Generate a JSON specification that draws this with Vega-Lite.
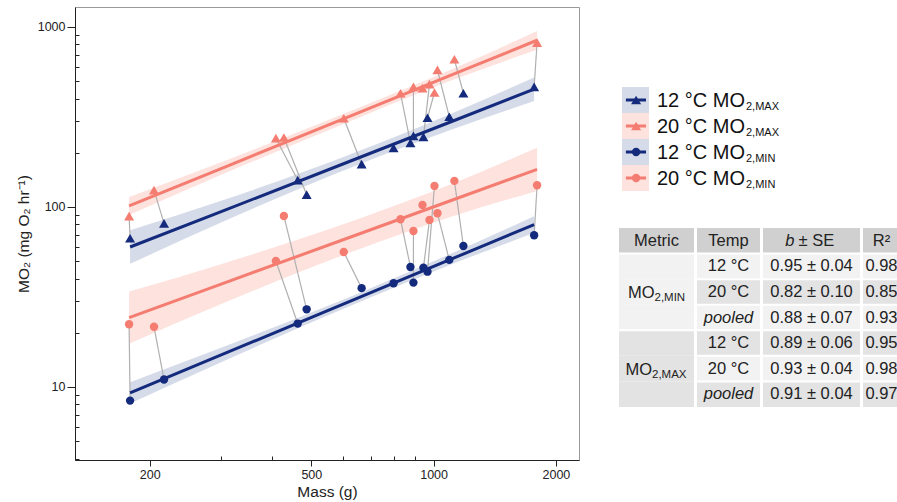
{
  "$schema": "https://vega.github.io/schema/vega-lite/v6.json",
  "padding": {"left": 15, "top": 6, "right": 0, "bottom": 0},
  "background": "white",
  "config": {
    "font": "Liberation Sans",
    "view": {"stroke": null},
    "axis": {"grid": false}
  },
  "datasets": {
    "pts": [
      {"f": "A", "t": "12 °C", "m": "MAX", "mass": 179, "mo2": 67},
      {"f": "A", "t": "20 °C", "m": "MAX", "mass": 178, "mo2": 89},
      {"f": "A", "t": "12 °C", "m": "MIN", "mass": 179, "mo2": 8.4},
      {"f": "A", "t": "20 °C", "m": "MIN", "mass": 178, "mo2": 22.3},
      {"f": "B", "t": "12 °C", "m": "MAX", "mass": 217, "mo2": 81},
      {"f": "B", "t": "20 °C", "m": "MAX", "mass": 205, "mo2": 124},
      {"f": "B", "t": "12 °C", "m": "MIN", "mass": 217, "mo2": 11.0},
      {"f": "B", "t": "20 °C", "m": "MIN", "mass": 205, "mo2": 21.6},
      {"f": "C", "t": "12 °C", "m": "MAX", "mass": 463, "mo2": 141},
      {"f": "C", "t": "20 °C", "m": "MAX", "mass": 409, "mo2": 241},
      {"f": "C", "t": "12 °C", "m": "MIN", "mass": 463, "mo2": 22.5},
      {"f": "C", "t": "20 °C", "m": "MIN", "mass": 409, "mo2": 50.1},
      {"f": "D", "t": "12 °C", "m": "MAX", "mass": 487, "mo2": 117},
      {"f": "D", "t": "20 °C", "m": "MAX", "mass": 428, "mo2": 243},
      {"f": "D", "t": "12 °C", "m": "MIN", "mass": 487, "mo2": 27.0},
      {"f": "D", "t": "20 °C", "m": "MIN", "mass": 428, "mo2": 89.1},
      {"f": "E", "t": "12 °C", "m": "MAX", "mass": 665, "mo2": 173},
      {"f": "E", "t": "20 °C", "m": "MAX", "mass": 601, "mo2": 311},
      {"f": "E", "t": "12 °C", "m": "MIN", "mass": 665, "mo2": 35.4},
      {"f": "E", "t": "20 °C", "m": "MIN", "mass": 601, "mo2": 56.2},
      {"f": "F", "t": "12 °C", "m": "MAX", "mass": 877, "mo2": 227},
      {"f": "F", "t": "20 °C", "m": "MAX", "mass": 829, "mo2": 428},
      {"f": "F", "t": "12 °C", "m": "MIN", "mass": 877, "mo2": 46.4},
      {"f": "F", "t": "20 °C", "m": "MIN", "mass": 829, "mo2": 85.4},
      {"f": "G", "t": "12 °C", "m": "MAX", "mass": 892, "mo2": 248},
      {"f": "G", "t": "20 °C", "m": "MAX", "mass": 892, "mo2": 464},
      {"f": "G", "t": "12 °C", "m": "MIN", "mass": 892, "mo2": 38.0},
      {"f": "G", "t": "20 °C", "m": "MIN", "mass": 892, "mo2": 73.5},
      {"f": "H", "t": "12 °C", "m": "MAX", "mass": 944, "mo2": 245},
      {"f": "H", "t": "20 °C", "m": "MAX", "mass": 977, "mo2": 481},
      {"f": "H", "t": "12 °C", "m": "MIN", "mass": 944, "mo2": 46.0},
      {"f": "H", "t": "20 °C", "m": "MIN", "mass": 977, "mo2": 84.7},
      {"f": "I", "t": "12 °C", "m": "MAX", "mass": 966, "mo2": 313},
      {"f": "I", "t": "20 °C", "m": "MAX", "mass": 1005, "mo2": 432},
      {"f": "I", "t": "12 °C", "m": "MIN", "mass": 966, "mo2": 43.7},
      {"f": "I", "t": "20 °C", "m": "MIN", "mass": 1005, "mo2": 130.8},
      {"f": "J", "t": "12 °C", "m": "MAX", "mass": 1093, "mo2": 317},
      {"f": "J", "t": "20 °C", "m": "MAX", "mass": 1022, "mo2": 577},
      {"f": "J", "t": "12 °C", "m": "MIN", "mass": 1093, "mo2": 50.8},
      {"f": "J", "t": "20 °C", "m": "MIN", "mass": 1022, "mo2": 92.2},
      {"f": "K", "t": "12 °C", "m": "MAX", "mass": 1184, "mo2": 428},
      {"f": "K", "t": "20 °C", "m": "MAX", "mass": 1125, "mo2": 661},
      {"f": "K", "t": "12 °C", "m": "MIN", "mass": 1184, "mo2": 60.7},
      {"f": "K", "t": "20 °C", "m": "MIN", "mass": 1125, "mo2": 139.5},
      {"f": "L", "t": "12 °C", "m": "MAX", "mass": 1768, "mo2": 464},
      {"f": "L", "t": "20 °C", "m": "MAX", "mass": 1798, "mo2": 818},
      {"f": "L", "t": "12 °C", "m": "MIN", "mass": 1768, "mo2": 69.6},
      {"f": "L", "t": "20 °C", "m": "MIN", "mass": 1798, "mo2": 132},
      {"f": "M", "t": "12 °C", "m": "MAX", "mass": 797, "mo2": 213},
      {"f": "M", "t": "12 °C", "m": "MIN", "mass": 797, "mo2": 37.7},
      {"f": "N", "t": "20 °C", "m": "MAX", "mass": 939, "mo2": 457},
      {"f": "N", "t": "20 °C", "m": "MIN", "mass": 939, "mo2": 102.6}
    ],
    "fits": [
      {"t": "12 °C", "m": "MAX", "mass": 179, "fit": 59.9, "lo": 48.3, "hi": 74.3},
      {"t": "12 °C", "m": "MAX", "mass": 300, "fit": 94.2, "lo": 82.0, "hi": 108.1},
      {"t": "12 °C", "m": "MAX", "mass": 650, "fit": 186.4, "lo": 171.1, "hi": 203.0},
      {"t": "12 °C", "m": "MAX", "mass": 1100, "fit": 296.3, "lo": 267.2, "hi": 328.6},
      {"t": "12 °C", "m": "MAX", "mass": 1768, "fit": 450.7, "lo": 387.9, "hi": 523.7},
      {"t": "20 °C", "m": "MAX", "mass": 178, "fit": 101.3, "lo": 90.3, "hi": 113.4},
      {"t": "20 °C", "m": "MAX", "mass": 300, "fit": 163.4, "lo": 150.8, "hi": 177.1},
      {"t": "20 °C", "m": "MAX", "mass": 650, "fit": 331.8, "lo": 311.0, "hi": 353.9},
      {"t": "20 °C", "m": "MAX", "mass": 1100, "fit": 537.4, "lo": 501.5, "hi": 575.8},
      {"t": "20 °C", "m": "MAX", "mass": 1798, "fit": 843, "lo": 747.7, "hi": 950.5},
      {"t": "20 °C", "m": "MIN", "mass": 178, "fit": 24.3, "lo": 17.4, "hi": 33.9},
      {"t": "20 °C", "m": "MIN", "mass": 300, "fit": 37.3, "lo": 28.9, "hi": 48.1},
      {"t": "20 °C", "m": "MIN", "mass": 650, "fit": 70.3, "lo": 57.8, "hi": 85.5},
      {"t": "20 °C", "m": "MIN", "mass": 1100, "fit": 108.2, "lo": 88.0, "hi": 133.1},
      {"t": "20 °C", "m": "MIN", "mass": 1798, "fit": 161.8, "lo": 122.7, "hi": 213.3},
      {"t": "12 °C", "m": "MIN", "mass": 179, "fit": 9.27, "lo": 8.09, "hi": 10.62},
      {"t": "12 °C", "m": "MIN", "mass": 300, "fit": 15.06, "lo": 13.74, "hi": 16.51},
      {"t": "12 °C", "m": "MIN", "mass": 650, "fit": 31.16, "lo": 29.4, "hi": 33.0},
      {"t": "12 °C", "m": "MIN", "mass": 1100, "fit": 51.08, "lo": 47.7, "hi": 54.7},
      {"t": "12 °C", "m": "MIN", "mass": 1768, "fit": 79.8, "lo": 71.8, "hi": 88.7}
    ],
    "leg": [
      {"k": "12 °C MAX", "t": "12 °C", "m": "MAX", "label": "12 °C MO", "sub": "2,MAX"},
      {"k": "20 °C MAX", "t": "20 °C", "m": "MAX", "label": "20 °C MO", "sub": "2,MAX"},
      {"k": "12 °C MIN", "t": "12 °C", "m": "MIN", "label": "12 °C MO", "sub": "2,MIN"},
      {"k": "20 °C MIN", "t": "20 °C", "m": "MIN", "label": "20 °C MO", "sub": "2,MIN"}
    ],
    "tbl": [
      {"row": "1", "metric": "MIN", "temp": "12 °C", "b": "0.95 ± 0.04", "r2": "0.98"},
      {"row": "2", "metric": "MIN", "temp": "20 °C", "b": "0.82 ± 0.10", "r2": "0.85"},
      {"row": "3", "metric": "MIN", "temp": "pooled", "b": "0.88 ± 0.07", "r2": "0.93"},
      {"row": "4", "metric": "MAX", "temp": "12 °C", "b": "0.89 ± 0.06", "r2": "0.95"},
      {"row": "5", "metric": "MAX", "temp": "20 °C", "b": "0.93 ± 0.04", "r2": "0.98"},
      {"row": "6", "metric": "MAX", "temp": "pooled", "b": "0.91 ± 0.04", "r2": "0.97"}
    ],
    "one": [{}]
  },
  "spacing": 38,
  "hconcat": [
    {
      "width": 504,
      "height": 453,
      "view": {"stroke": "#999999", "strokeWidth": 1},
      "encoding": {
        "x": {
          "field": "mass",
          "type": "quantitative",
          "title": "Mass (g)",
          "scale": {"type": "log", "domain": [131, 2280], "nice": false},
          "axis": {
            "values": [200, 300, 400, 500, 600, 700, 800, 900, 1000, 2000],
            "labelExpr": "indexof([200,500,1000,2000], datum.value) >= 0 ? '' + datum.value : ''",
            "tickSize": {"condition": {"test": "indexof([200,500,1000,2000], datum.value) >= 0", "value": 6}, "value": -4},
            "domainColor": "#222222",
            "tickColor": "#222222",
            "labelColor": "#222222",
            "titleColor": "#222222",
            "labelFontSize": 12.5,
            "titleFontSize": 15.5,
            "titleFontWeight": "normal",
            "labelPadding": 2,
            "titlePadding": 4,
            "labelFlush": false,
            "labelOverlap": false
          }
        }
      },
      "layer": [
        {
          "data": {"name": "fits"},
          "mark": {"type": "area", "interpolate": "monotone", "opacity": 1},
          "encoding": {
            "y": {
              "field": "lo",
              "type": "quantitative",
              "title": "MO₂ (mg O₂ hr⁻¹)",
              "scale": {"type": "log", "domain": [3.93, 1290], "nice": false},
              "axis": {
                "values": [4, 5, 6, 7, 8, 9, 10, 20, 30, 40, 50, 60, 70, 80, 90, 100, 200, 300, 400, 500, 600, 700, 800, 900, 1000],
                "labelExpr": "indexof([10,100,1000], datum.value) >= 0 ? '' + datum.value : ''",
                "tickSize": {"condition": {"test": "indexof([10,100,1000], datum.value) >= 0", "value": 8}, "value": -4},
                "domainColor": "#222222",
                "tickColor": "#222222",
                "labelColor": "#222222",
                "titleColor": "#222222",
                "labelFontSize": 12.5,
                "titleFontSize": 15.5,
                "titleFontWeight": "normal",
                "labelPadding": 2,
                "titlePadding": 6,
                "labelFlush": false,
                "labelOverlap": false
              }
            },
            "y2": {"field": "hi"},
            "fill": {"field": "t", "type": "nominal", "scale": {"domain": ["12 °C", "20 °C"], "range": ["#d5dbe9", "#fde2de"]}, "legend": null},
            "detail": {"field": "m", "type": "nominal"}
          }
        },
        {
          "data": {"name": "pts"},
          "mark": {"type": "line", "color": "#b0b0b0", "strokeWidth": 1.2},
          "encoding": {
            "y": {"field": "mo2", "type": "quantitative", "title": "MO₂ (mg O₂ hr⁻¹)"},
            "detail": [{"field": "f", "type": "nominal"}, {"field": "m", "type": "nominal"}]
          }
        },
        {
          "data": {"name": "fits"},
          "mark": {"type": "line", "strokeWidth": 3},
          "encoding": {
            "y": {"field": "fit", "type": "quantitative", "title": "MO₂ (mg O₂ hr⁻¹)"},
            "color": {"field": "t", "type": "nominal", "scale": {"domain": ["12 °C", "20 °C"], "range": ["#142a7c", "#f47c70"]}, "legend": null},
            "detail": {"field": "m", "type": "nominal"}
          }
        },
        {
          "data": {"name": "pts"},
          "mark": {"type": "point", "filled": true, "opacity": 1},
          "encoding": {
            "y": {"field": "mo2", "type": "quantitative", "title": "MO₂ (mg O₂ hr⁻¹)"},
            "color": {"field": "t", "type": "nominal", "legend": null},
            "shape": {"field": "m", "type": "nominal", "scale": {"domain": ["MAX", "MIN"], "range": ["triangle-up", "circle"]}, "legend": null},
            "size": {"field": "m", "type": "nominal", "scale": {"domain": ["MAX", "MIN"], "range": [100, 70]}, "legend": null}
          }
        }
      ]
    },
    {
      "spacing": 37,
      "vconcat": [
        {
          "width": 30,
          "height": 184,
          "data": {"name": "leg"},
          "encoding": {
            "y": {"field": "k", "type": "nominal", "axis": null, "scale": {"domain": ["12 °C MAX", "20 °C MAX", "12 °C MIN", "20 °C MIN"], "range": [80, 184], "paddingInner": 0, "paddingOuter": 0}}
          },
          "layer": [
            {
              "mark": {"type": "rect"},
              "encoding": {
                "x": {"datum": 0.1, "type": "quantitative", "scale": {"domain": [0, 1]}, "axis": null},
                "x2": {"datum": 1},
                "fill": {"field": "t", "type": "nominal", "legend": null}
              }
            },
            {
              "mark": {"type": "rule", "strokeWidth": 3},
              "encoding": {
                "x": {"datum": 0.23, "type": "quantitative"},
                "x2": {"datum": 0.9},
                "y": {"field": "k", "type": "nominal", "bandPosition": 0.5},
                "color": {"field": "t", "type": "nominal", "legend": null}
              }
            },
            {
              "mark": {"type": "point", "filled": true, "opacity": 1},
              "encoding": {
                "x": {"datum": 0.57, "type": "quantitative"},
                "color": {"field": "t", "type": "nominal", "legend": null},
                "shape": {"field": "m", "type": "nominal", "legend": null},
                "size": {"field": "m", "type": "nominal", "legend": null}
              }
            },
            {
              "mark": {"type": "text", "align": "left", "baseline": "alphabetic", "dx": 8, "dy": 7, "fontSize": 20, "color": "#111111"},
              "encoding": {
                "x": {"datum": 1, "type": "quantitative"},
                "text": {"field": "label"}
              }
            },
            {
              "mark": {"type": "text", "align": "left", "baseline": "alphabetic", "dx": 97, "dy": 10, "fontSize": 11, "color": "#111111"},
              "encoding": {
                "x": {"datum": 1, "type": "quantitative"},
                "text": {"field": "sub"}
              }
            }
          ]
        },
        {
          "spacing": 1,
          "hconcat": [
            {
              "width": 75,
              "height": 179,
              "data": {"name": "tbl"},
              "encoding": {
                "y": {"field": "row", "type": "ordinal", "axis": null, "scale": {"domain": ["h", "1", "2", "3", "4", "5", "6"], "paddingInner": 0, "paddingOuter": 0}}
              },
              "layer": [
                {
                  "mark": {"type": "rect"},
                  "encoding": {
                    "fill": {"condition": {"test": "datum.metric == 'MAX'", "value": "#e3e3e3"}, "value": "#f2f2f2"}
                  }
                },
                {
                  "data": {"name": "one"},
                  "mark": {"type": "rect", "color": "#d0d0d0"},
                  "encoding": {"y": {"datum": "h", "type": "ordinal"}}
                },
                {
                  "transform": [{"filter": "datum.row == '1' || datum.row == '4'"}],
                  "mark": {"type": "rule", "color": "white", "strokeWidth": 2},
                  "encoding": {"y": {"field": "row", "type": "ordinal", "bandPosition": 0}}
                },
                {
                  "data": {"name": "one"},
                  "mark": {"type": "text", "fontSize": 16.5, "color": "#222222", "baseline": "middle"},
                  "encoding": {"y": {"datum": "h", "type": "ordinal"}, "text": {"value": "Metric"}}
                },
                {
                  "transform": [{"filter": "datum.row == '2'"}],
                  "mark": {"type": "text", "fontSize": 16.5, "color": "#222222", "align": "right", "baseline": "alphabetic", "dx": -2, "dy": 6},
                  "encoding": {"text": {"value": "MO"}}
                },
                {
                  "transform": [{"filter": "datum.row == '2'"}],
                  "mark": {"type": "text", "fontSize": 11.5, "color": "#222222", "align": "left", "baseline": "alphabetic", "dx": -2, "dy": 9},
                  "encoding": {"text": {"value": "2,MIN"}}
                },
                {
                  "transform": [{"filter": "datum.row == '5'"}],
                  "mark": {"type": "text", "fontSize": 16.5, "color": "#222222", "align": "right", "baseline": "alphabetic", "dx": -4.5, "dy": 6},
                  "encoding": {"text": {"value": "MO"}}
                },
                {
                  "transform": [{"filter": "datum.row == '5'"}],
                  "mark": {"type": "text", "fontSize": 11.5, "color": "#222222", "align": "left", "baseline": "alphabetic", "dx": -4.5, "dy": 9},
                  "encoding": {"text": {"value": "2,MAX"}}
                }
              ]
            },
            {
              "width": 63,
              "height": 179,
              "data": {"name": "tbl"},
              "encoding": {
                "y": {"field": "row", "type": "ordinal", "axis": null, "scale": {"domain": ["h", "1", "2", "3", "4", "5", "6"], "paddingInner": 0, "paddingOuter": 0}}
              },
              "layer": [
                {
                  "mark": {"type": "rect"},
                  "encoding": {
                    "fill": {"condition": {"test": "datum.row == '2' || datum.row == '4' || datum.row == '6'", "value": "#e3e3e3"}, "value": "#f2f2f2"}
                  }
                },
                {
                  "data": {"name": "one"},
                  "mark": {"type": "rect", "color": "#d0d0d0"},
                  "encoding": {"y": {"datum": "h", "type": "ordinal"}}
                },
                {
                  "mark": {"type": "rule", "color": "white", "strokeWidth": 2},
                  "encoding": {"y": {"field": "row", "type": "ordinal", "bandPosition": 0}}
                },
                {
                  "data": {"name": "one"},
                  "mark": {"type": "text", "fontSize": 16.5, "color": "#222222", "baseline": "middle"},
                  "encoding": {"y": {"datum": "h", "type": "ordinal"}, "text": {"value": "Temp"}}
                },
                {
                  "transform": [{"filter": "datum.temp != 'pooled'"}],
                  "mark": {"type": "text", "fontSize": 16.5, "color": "#222222", "baseline": "middle"},
                  "encoding": {"text": {"field": "temp"}}
                },
                {
                  "transform": [{"filter": "datum.temp == 'pooled'"}],
                  "mark": {"type": "text", "fontSize": 16.5, "fontStyle": "italic", "color": "#222222", "baseline": "middle"},
                  "encoding": {"text": {"field": "temp"}}
                }
              ]
            },
            {
              "width": 97,
              "height": 179,
              "data": {"name": "tbl"},
              "encoding": {
                "y": {"field": "row", "type": "ordinal", "axis": null, "scale": {"domain": ["h", "1", "2", "3", "4", "5", "6"], "paddingInner": 0, "paddingOuter": 0}}
              },
              "layer": [
                {
                  "mark": {"type": "rect"},
                  "encoding": {
                    "fill": {"condition": {"test": "datum.row == '2' || datum.row == '4' || datum.row == '6'", "value": "#e3e3e3"}, "value": "#f2f2f2"}
                  }
                },
                {
                  "data": {"name": "one"},
                  "mark": {"type": "rect", "color": "#d0d0d0"},
                  "encoding": {"y": {"datum": "h", "type": "ordinal"}}
                },
                {
                  "mark": {"type": "rule", "color": "white", "strokeWidth": 2},
                  "encoding": {"y": {"field": "row", "type": "ordinal", "bandPosition": 0}}
                },
                {
                  "data": {"name": "one"},
                  "mark": {"type": "text", "fontSize": 16.5, "fontStyle": "italic", "color": "#222222", "baseline": "middle", "align": "right", "dx": -17},
                  "encoding": {"y": {"datum": "h", "type": "ordinal"}, "text": {"value": "b"}}
                },
                {
                  "data": {"name": "one"},
                  "mark": {"type": "text", "fontSize": 16.5, "color": "#222222", "baseline": "middle", "align": "left", "dx": -13},
                  "encoding": {"y": {"datum": "h", "type": "ordinal"}, "text": {"value": "±  SE"}}
                },
                {
                  "mark": {"type": "text", "fontSize": 16.5, "color": "#222222", "baseline": "middle"},
                  "encoding": {"text": {"field": "b"}}
                }
              ]
            },
            {
              "width": 37,
              "height": 179,
              "data": {"name": "tbl"},
              "encoding": {
                "y": {"field": "row", "type": "ordinal", "axis": null, "scale": {"domain": ["h", "1", "2", "3", "4", "5", "6"], "paddingInner": 0, "paddingOuter": 0}}
              },
              "layer": [
                {
                  "mark": {"type": "rect"},
                  "encoding": {
                    "fill": {"condition": {"test": "datum.row == '2' || datum.row == '4' || datum.row == '6'", "value": "#e3e3e3"}, "value": "#f2f2f2"}
                  }
                },
                {
                  "data": {"name": "one"},
                  "mark": {"type": "rect", "color": "#d0d0d0"},
                  "encoding": {"y": {"datum": "h", "type": "ordinal"}}
                },
                {
                  "mark": {"type": "rule", "color": "white", "strokeWidth": 2},
                  "encoding": {"y": {"field": "row", "type": "ordinal", "bandPosition": 0}}
                },
                {
                  "data": {"name": "one"},
                  "mark": {"type": "text", "fontSize": 16.5, "color": "#222222", "baseline": "middle"},
                  "encoding": {"y": {"datum": "h", "type": "ordinal"}, "text": {"value": "R²"}}
                },
                {
                  "mark": {"type": "text", "fontSize": 16.5, "color": "#222222", "baseline": "middle"},
                  "encoding": {"text": {"field": "r2"}}
                }
              ]
            }
          ]
        }
      ]
    }
  ]
}
